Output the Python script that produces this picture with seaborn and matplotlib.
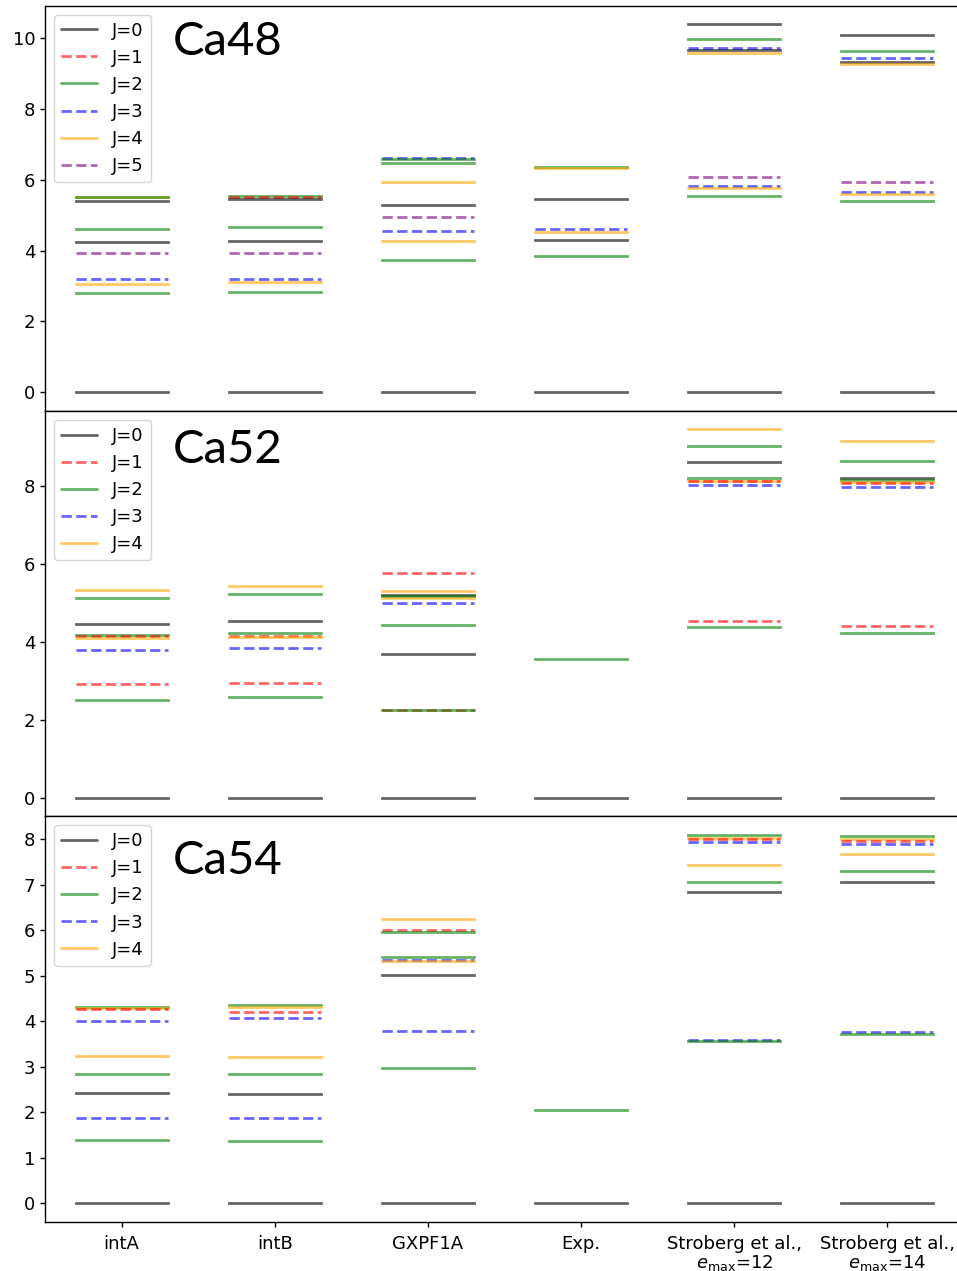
import matplotlib
matplotlib.use("Agg")
import matplotlib.pyplot as plt
from matplotlib.lines import Line2D
import seaborn as sns

# ---------------- data ----------------
MODELS = ["intA", "intB", "GXPF1A", "Exp.", "Stroberg12", "Stroberg14"]
XTICK_LABELS = ["intA", "intB", "GXPF1A", "Exp.",
                "Stroberg et al.,\n$e_{\\rm max}$=12",
                "Stroberg et al.,\n$e_{\\rm max}$=14"]
NUCLEI = ["Ca48", "Ca52", "Ca54"]
J_LABELS = ["J=0", "J=1", "J=2", "J=3", "J=4", "J=5"]

# energies (MeV) per J, one list per model (intA, intB, GXPF1A, Exp., Str12, Str14)
CA48_J0 = [[0.0, 4.23, 5.40], [0.0, 4.27, 5.44], [0.0, 5.28], [0.0, 4.29, 5.46], [0.0, 9.66, 10.39], [0.0, 9.32, 10.08]]
CA48_J1 = [[], [5.52], [], [], [], []]
CA48_J2 = [[2.81, 4.61, 5.50], [2.83, 4.65, 5.53], [3.74, 6.48, 6.58], [3.84, 6.35], [5.54, 9.97], [5.39, 9.63]]
CA48_J3 = [[3.19], [3.20], [4.55, 6.60], [4.61], [5.82, 9.72], [5.65, 9.42]]
CA48_J4 = [[3.07, 5.51], [3.10], [4.27, 5.94], [4.51, 6.34], [5.75, 9.56], [5.59, 9.26]]
CA48_J5 = [[3.92], [3.93], [4.95], [], [6.08], [5.92]]

CA52_J0 = [[0.0, 4.45], [0.0, 4.55], [0.0, 3.68, 5.20], [0.0], [0.0, 8.63], [0.0, 8.21]]
CA52_J1 = [[2.91, 4.15], [2.94, 4.15], [2.25, 5.77], [], [4.55, 8.12], [4.40, 8.09]]
CA52_J2 = [[2.50, 4.17, 5.13], [2.58, 4.24, 5.22], [2.24, 4.43, 5.19], [3.56], [4.38, 8.21, 9.02], [4.24, 8.17, 8.65]]
CA52_J3 = [[3.80], [3.85], [5.01], [], [8.03], [7.97]]
CA52_J4 = [[4.09, 5.34], [4.13, 5.43], [5.14, 5.32], [], [8.13, 9.46], [8.10, 9.16]]

CA54_J0 = [[0.0, 2.41], [0.0, 2.40], [0.0, 5.02], [0.0], [0.0, 6.84], [0.0, 7.05]]
CA54_J1 = [[4.27], [4.21], [6.01], [], [8.01], [7.97]]
CA54_J2 = [[1.38, 2.83, 4.32], [1.37, 2.84, 4.35], [2.96, 5.40, 5.96], [2.04], [3.56, 7.05, 8.10], [3.71, 7.30, 8.06]]
CA54_J3 = [[1.86, 4.01], [1.86, 4.06], [3.78, 5.35], [], [3.59, 7.93], [3.76, 7.89]]
CA54_J4 = [[3.24, 4.29], [3.21, 4.31], [5.33, 6.25], [], [7.44, 8.03], [7.68, 8.00]]

LEVELS = {
    "Ca48": [CA48_J0, CA48_J1, CA48_J2, CA48_J3, CA48_J4, CA48_J5],
    "Ca52": [CA52_J0, CA52_J1, CA52_J2, CA52_J3, CA52_J4],
    "Ca54": [CA54_J0, CA54_J1, CA54_J2, CA54_J3, CA54_J4],
}
YTICKS = {
    "Ca48": [0, 2, 4, 6, 8, 10],
    "Ca52": [0, 2, 4, 6, 8],
    "Ca54": [0, 1, 2, 3, 4, 5, 6, 7, 8],
}

# ---------------- style ----------------
J_COLORS = ["black", "red", "green", "blue", "orange", "purple"]
J_STYLES = ["-", "--", "-", "--", "-", "--"]
ALPHA = 0.6
LW = 2.0
HALF = 0.3

sns.set_style("ticks", rc={
    "axes.edgecolor": "black",
    "xtick.color": "black",
    "ytick.color": "black",
    "text.color": "black",
    "axes.labelcolor": "black",
})
plt.rcParams["font.family"] = ["DejaVu Sans"]
plt.rcParams["axes.linewidth"] = 1.0

fig = plt.figure(figsize=(9.57, 12.71), dpi=100)
axes = fig.subplots(3, 1, sharex=True)
fig.subplots_adjust(left=45 / 957, right=964 / 957,
                    top=1 - 5.5 / 1271, bottom=1 - 1221.5 / 1271, hspace=0)

TITLE_Y = [0.878, 0.872, 0.857]

for k, (ax, nuc) in enumerate(zip(axes, NUCLEI)):
    per_j = LEVELS[nuc]
    items = []
    for j, per_model in enumerate(per_j):
        for m, energies in enumerate(per_model):
            for e in energies:
                items.append((e, m, j))
    # draw from top level down
    items.sort(key=lambda t: -t[0])
    for e, m, j in items:
        kws = dict(color=J_COLORS[j], linestyle=J_STYLES[j], lw=LW, alpha=ALPHA)
        if J_STYLES[j] == "-":
            kws["solid_capstyle"] = "projecting"
        else:
            kws["dash_capstyle"] = "butt"
        sns.lineplot(x=[m - HALF, m + HALF], y=[e, e], estimator=None,
                     sort=False, ax=ax, **kws)

    ax.set_xlim(-0.5, 5.5)
    ax.set_yticks(YTICKS[nuc])
    ax.tick_params(axis="both", labelsize=13, length=3.5, width=1.0)
    ax.tick_params(axis="x", pad=6.3)
    if k < 2:
        ax.tick_params(axis="x", bottom=False, labelbottom=False)
    ax.set_xlabel("")
    ax.set_ylabel("")
    for s in ax.spines.values():
        s.set_visible(True)
        s.set_color("black")

    handles = [Line2D([], [], color=J_COLORS[j], linestyle=J_STYLES[j],
                      lw=LW, alpha=ALPHA) for j in range(len(per_j))]
    ax.legend(handles, J_LABELS[:len(per_j)], loc="upper left", fontsize=13,
              frameon=True, fancybox=True, framealpha=0.8, edgecolor="0.8")

    ax.text(0.139, TITLE_Y[k], nuc, transform=ax.transAxes, fontsize=34,
            family=["Lato", "DejaVu Sans"], ha="left", va="baseline")

axes[-1].set_xticks(range(len(MODELS)))
axes[-1].set_xticklabels(XTICK_LABELS, linespacing=1.0)

fig.savefig("out.png", dpi=100)
